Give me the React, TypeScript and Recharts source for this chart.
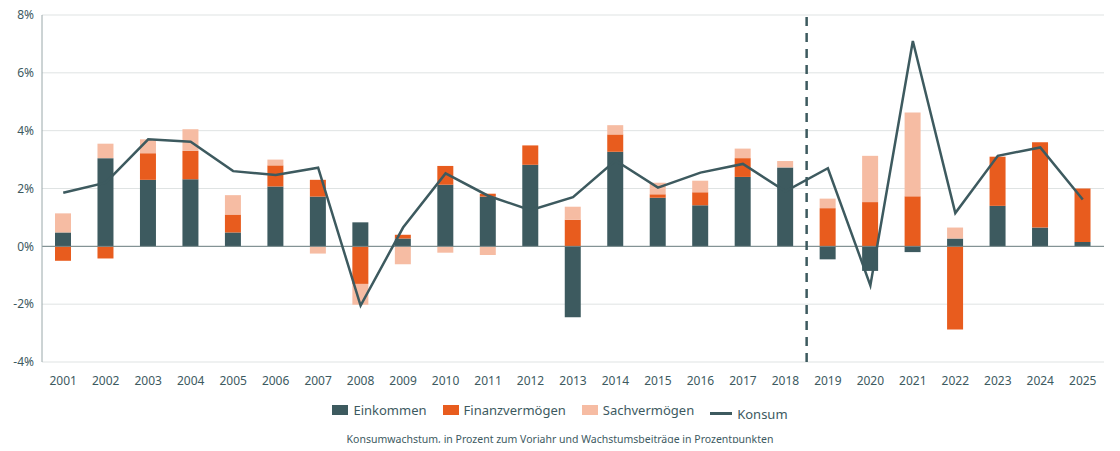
import React from "react";
import { ComposedChart, Bar, Line, XAxis, YAxis, CartesianGrid, ReferenceLine } from "recharts";

const years = [2001, 2002, 2003, 2004, 2005, 2006, 2007, 2008, 2009, 2010, 2011, 2012, 2013, 2014, 2015, 2016, 2017, 2018, 2019, 2020, 2021, 2022, 2023, 2024, 2025];
const einkommen = [0.48, 3.05, 2.3, 2.32, 0.48, 2.07, 1.72, 0.83, 0.27, 2.13, 1.72, 2.82, -2.45, 3.27, 1.68, 1.42, 2.4, 2.73, -0.45, -0.85, -0.2, 0.27, 1.4, 0.65, 0.15];
const finanz = [-0.5, -0.42, 0.92, 0.98, 0.62, 0.73, 0.58, -1.3, 0.13, 0.65, 0.1, 0.67, 0.92, 0.6, 0.12, 0.45, 0.65, 0, 1.32, 1.53, 1.73, -2.88, 1.7, 2.95, 1.85];
const sach = [0.66, 0.5, 0.48, 0.75, 0.67, 0.2, -0.25, -0.72, -0.62, -0.22, -0.3, 0, 0.45, 0.32, 0.4, 0.4, 0.33, 0.22, 0.33, 1.6, 2.9, 0.38, 0, 0, 0];
const konsum = [1.85, 2.2, 3.7, 3.62, 2.6, 2.47, 2.72, -2.05, 0.65, 2.52, 1.75, 1.25, 1.7, 2.97, 2.03, 2.55, 2.85, 1.9, 2.7, -1.35, 7.1, 1.15, 3.13, 3.42, 1.62];
const yTicks = [-4, -2, 0, 2, 4, 6, 8];

const data = years.map((y, i) => ({ year: y, einkommen: einkommen[i], finanz: finanz[i], sach: sach[i], konsum: konsum[i] }));

const DARK = "#3d5a5f";
const ORANGE = "#e85c1e";
const PEACH = "#f6bca3";
const font = "'Noto Sans', 'Open Sans', sans-serif";

const LegendItem = ({ color, label, line }: { color: string; label: string; line?: boolean }) => (
  <span style={{ display: "inline-flex", alignItems: "center", margin: "0 8px" }}>
    <span style={{ display: "inline-block", width: line ? 22 : 16, height: line ? 3 : 10, background: color, marginRight: 5 }} />
    {label}
  </span>
);

export default function App() {
  return (
    <div style={{ margin: -8, width: 1120, height: 451, background: "#fff", fontFamily: font, color: DARK }}>
      <ComposedChart width={1120} height={400} data={data} stackOffset="sign" margin={{ top: 15, right: 16, bottom: 8, left: 0 }}>
        <CartesianGrid vertical={false} stroke="#dfe3e3" />
        <XAxis dataKey="year" type="number" domain={[2000.5, 2025.5]} ticks={years} interval={0} axisLine={false} tickLine={false} height={30} tick={{ fill: DARK, fontSize: 12, fontFamily: font }} tickMargin={8} />
        <YAxis domain={[-4, 8]} ticks={yTicks} width={42} tickFormatter={(v) => `${v}%`} tickLine={false} axisLine={{ stroke: "#9aa8aa" }} tick={{ fill: DARK, fontSize: 12, fontFamily: font }} />
        <ReferenceLine y={0} stroke="#6f8285" />
        <ReferenceLine x={2018.5} stroke={DARK} strokeWidth={2.5} strokeDasharray="9 7" />
        <Bar dataKey="einkommen" stackId="a" fill={DARK} barSize={16} isAnimationActive={false} />
        <Bar dataKey="finanz" stackId="a" fill={ORANGE} barSize={16} isAnimationActive={false} />
        <Bar dataKey="sach" stackId="a" fill={PEACH} barSize={16} isAnimationActive={false} />
        <Line dataKey="konsum" type="linear" stroke={DARK} strokeWidth={2.5} dot={false} isAnimationActive={false} />
      </ComposedChart>
      <div style={{ textAlign: "center", fontSize: 13, marginTop: 1 }}>
        <LegendItem color={DARK} label="Einkommen" />
        <LegendItem color={ORANGE} label="Finanzvermögen" />
        <LegendItem color={PEACH} label="Sachvermögen" />
        <LegendItem color={DARK} label="Konsum" line />
      </div>
      <div style={{ textAlign: "center", fontSize: 10.5, marginTop: 9 }}>
        Konsumwachstum, in Prozent zum Vorjahr und Wachstumsbeiträge in Prozentpunkten
      </div>
    </div>
  );
}
